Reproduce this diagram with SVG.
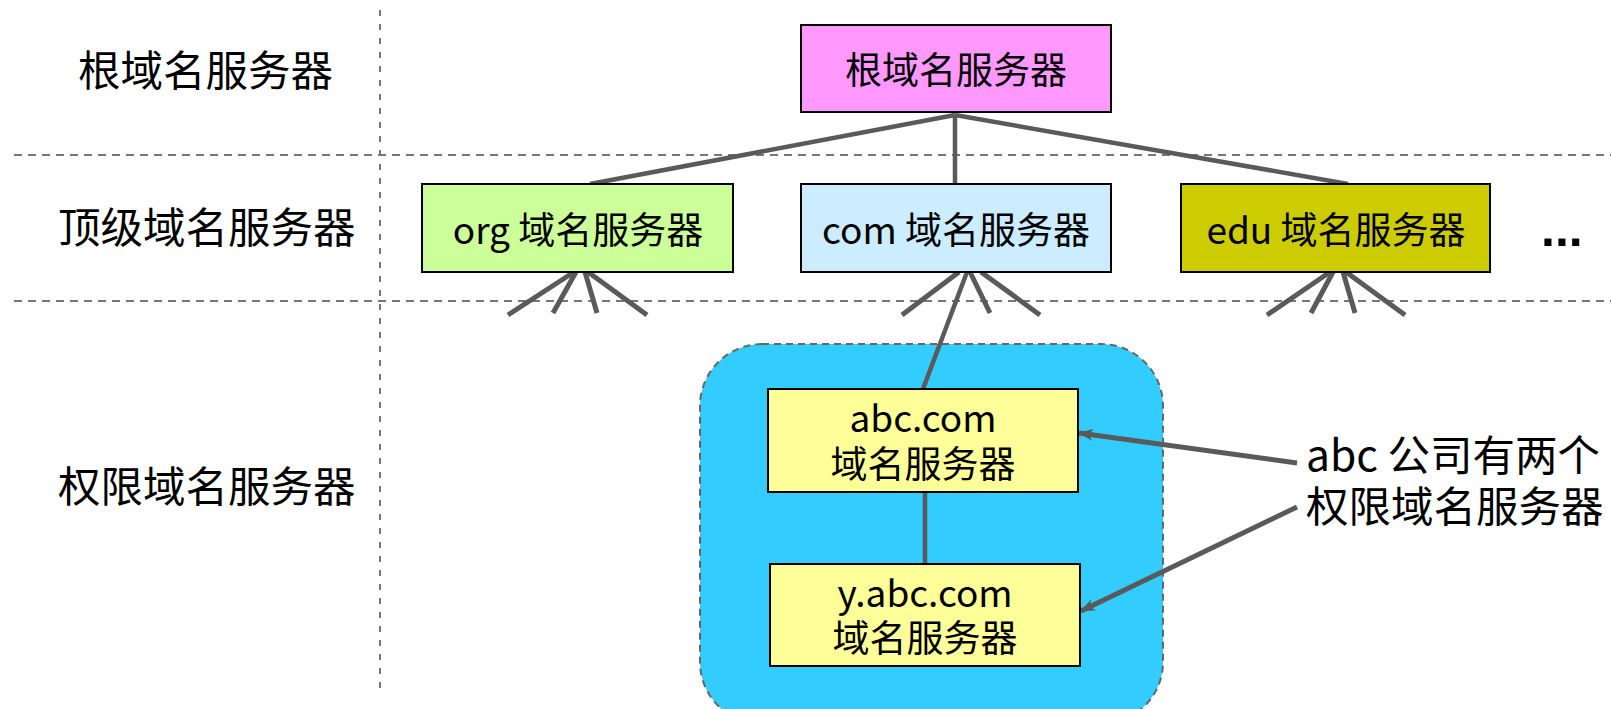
<svg xmlns="http://www.w3.org/2000/svg" width="1611" height="709" viewBox="0 0 1611 709">
<style>
.guide{stroke:#777;stroke-width:2;stroke-dasharray:8 6;fill:none}
.box{stroke:#000;stroke-width:2}
.edge{stroke:#5a5a5a;stroke-width:4.5;fill:none}
.fan{stroke:#5a5a5a;stroke-width:5;fill:none}
.arrow{stroke:#5a5a5a;stroke-width:5;fill:none;marker-end:url(#ah)}
text{font-family:"Noto Sans CJK SC","Noto Sans",sans-serif;fill:#000}
.lbl{font-size:42.5px}
.nt{font-size:37px;text-anchor:middle}
.ann{font-size:42.5px}
</style>
<defs>
<marker id="ah" markerUnits="userSpaceOnUse" markerWidth="16" markerHeight="14" refX="14" refY="7" orient="auto">
<path d="M0,1 L15,7 L0,13 L4,7 Z" fill="#5a5a5a"/>
</marker>
</defs>
<rect width="1611" height="709" fill="#fff"/>
<g id="guides">
<line class="guide" x1="14" y1="155" x2="1611" y2="155"/>
<line class="guide" x1="14" y1="301" x2="1611" y2="301"/>
<line class="guide" x1="380" y1="10" x2="380" y2="690" style="stroke-dasharray:6 8"/>
</g>
<g id="level-labels">
<text class="lbl" x="78" y="86">根域名服务器</text>
<text class="lbl" x="58" y="243">顶级域名服务器</text>
<text class="lbl" x="58" y="502">权限域名服务器</text>
</g>
<g id="abc-zone">
<rect x="700" y="344" width="463" height="380" rx="62" fill="#33CCFF" stroke="#666" stroke-width="2" stroke-dasharray="7 5"/>
</g>
<g id="connectors">
<line class="edge" x1="955" y1="115" x2="590" y2="184"/>
<line class="edge" x1="955" y1="115" x2="955" y2="184"/>
<line class="edge" x1="955" y1="115" x2="1348" y2="184"/>
<line class="fan" x1="574" y1="272" x2="508" y2="315"/>
<line class="fan" x1="576" y1="272" x2="553" y2="313"/>
<line class="fan" x1="585" y1="272" x2="597" y2="313"/>
<line class="fan" x1="588" y1="272" x2="647" y2="315"/>
<line class="fan" x1="959" y1="272" x2="902" y2="315"/>
<line class="fan" x1="970" y1="272" x2="990" y2="313"/>
<line class="fan" x1="981" y1="272" x2="1040" y2="315"/>
<line class="fan" x1="1330" y1="272" x2="1267" y2="315"/>
<line class="fan" x1="1333" y1="272" x2="1311" y2="313"/>
<line class="fan" x1="1343" y1="272" x2="1355" y2="313"/>
<line class="fan" x1="1346" y1="272" x2="1405" y2="315"/>
<line class="edge" x1="967" y1="272" x2="923" y2="389"/>
<line class="edge" x1="925" y1="492" x2="925" y2="564"/>
<line class="arrow" x1="1297" y1="463" x2="1079" y2="433"/>
<line class="arrow" x1="1297" y1="507" x2="1081" y2="611"/>
</g>
<g id="root">
<rect class="box" x="801" y="25" width="310" height="87" fill="#FF99FF"/>
<text class="nt" x="956" y="84">根域名服务器</text>
</g>
<g id="org">
<rect class="box" x="422" y="184" width="311" height="88" fill="#CCFF99"/>
<text class="nt" x="578" y="244">org 域名服务器</text>
</g>
<g id="com">
<rect class="box" x="801" y="184" width="310" height="88" fill="#CCECFF"/>
<text class="nt" x="956" y="244">com 域名服务器</text>
</g>
<g id="edu">
<rect class="box" x="1181" y="184" width="309" height="88" fill="#CCCC00"/>
<text class="nt" x="1336" y="244">edu 域名服务器</text>
</g>
<g id="more">
<text x="1541" y="246" style="font-family:'Liberation Sans',sans-serif;font-size:50px;font-weight:bold">...</text>
</g>
<g id="abc">
<rect class="box" x="768" y="389" width="310" height="103" fill="#FFFF99"/>
<text class="nt" x="923" y="432">abc.com</text>
<text class="nt" x="923" y="478">域名服务器</text>
</g>
<g id="yabc">
<rect class="box" x="770" y="564" width="310" height="102" fill="#FFFF99"/>
<text class="nt" x="925" y="607">y.abc.com</text>
<text class="nt" x="925" y="652">域名服务器</text>
</g>
<g id="annotation">
<text class="ann" x="1306" y="471">abc 公司有两个</text>
<text class="ann" x="1306" y="522">权限域名服务器</text>
</g>
</svg>
